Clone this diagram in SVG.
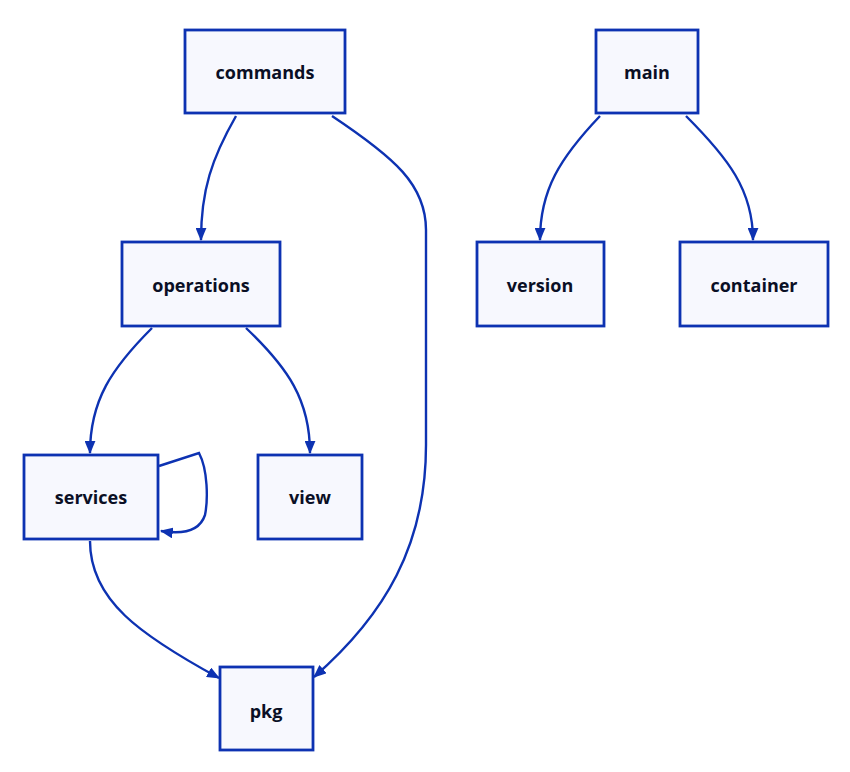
<svg xmlns="http://www.w3.org/2000/svg" width="850" height="772" viewBox="0 0 850 772">
<style>
.box{fill:#F7F8FE;stroke:#0D32B2;stroke-width:2.8}
.lbl{font-family:"Open Sans","Liberation Sans",sans-serif;font-weight:700;font-size:18px;fill:#0A0F25;text-anchor:middle;dominant-baseline:central}
.edge{fill:none;stroke:#0D32B2;stroke-width:2.4}
</style>
<defs>
<marker id="ah" viewBox="0 0 12 10" refX="11" refY="5" markerWidth="13" markerHeight="11" markerUnits="userSpaceOnUse" orient="auto">
<path d="M0,0 L12,5 L0,10 z" fill="#0D32B2"/>
</marker>
</defs>
<rect width="850" height="772" fill="#FFFFFF"/>
<g id="edges">
<path class="edge" marker-end="url(#ah)" d="M236,116 C212,158 201,190 201,240"/>
<path class="edge" marker-end="url(#ah)" d="M332,116 C395,158 426,185 426,230 L426,445 C426,545 385,615 314,677"/>
<path class="edge" marker-end="url(#ah)" d="M152,328 C112,368 90,400 90,453"/>
<path class="edge" marker-end="url(#ah)" d="M246,328 C288,368 310,400 310,453"/>
<path class="edge" marker-end="url(#ah)" d="M600,116 C560,158 540,190 540,240"/>
<path class="edge" marker-end="url(#ah)" d="M686,116 C728,158 753,190 753,240"/>
<path class="edge" marker-end="url(#ah)" d="M90,541 C90,600 140,635 219,678"/>
<path class="edge" marker-end="url(#ah)" d="M159,466 L199,453 C208,470 208,500 205,515 C200,530 185,535 161,531"/>
</g>
<g id="commands"><rect class="box" x="185" y="30" width="160" height="83"/><text class="lbl" x="265" y="72">commands</text></g>
<g id="main"><rect class="box" x="596" y="30" width="102" height="83"/><text class="lbl" x="647" y="72">main</text></g>
<g id="operations"><rect class="box" x="122" y="242" width="158" height="84"/><text class="lbl" x="201" y="285">operations</text></g>
<g id="version"><rect class="box" x="477" y="242" width="127" height="84"/><text class="lbl" x="540" y="285">version</text></g>
<g id="container"><rect class="box" x="680" y="242" width="148" height="84"/><text class="lbl" x="754" y="285">container</text></g>
<g id="services"><rect class="box" x="24" y="455" width="134" height="84"/><text class="lbl" x="91" y="497">services</text></g>
<g id="view"><rect class="box" x="258" y="455" width="104" height="84"/><text class="lbl" x="310" y="497">view</text></g>
<g id="pkg"><rect class="box" x="220" y="667" width="93" height="83"/><text class="lbl" x="266" y="711">pkg</text></g>
</svg>
